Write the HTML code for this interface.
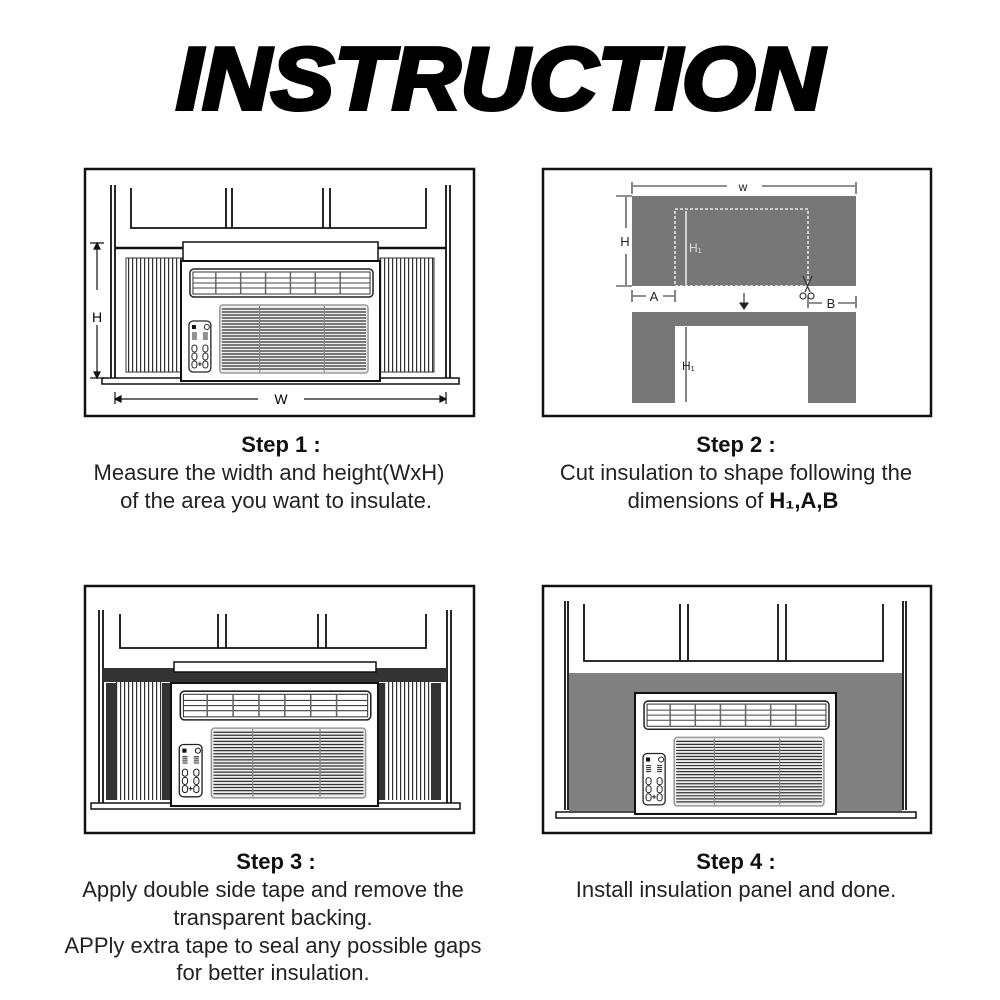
<!DOCTYPE html>
<html><head><meta charset="utf-8"><style>
html,body{margin:0;padding:0;background:#fff;width:1000px;height:1000px;overflow:hidden}
.t{font-family:"Liberation Sans",sans-serif;font-size:22px;fill:#222;text-anchor:middle}
.b{font-weight:bold;fill:#111}
</style></head><body>
<svg width="1000" height="1000" viewBox="0 0 1000 1000" xmlns="http://www.w3.org/2000/svg">
<defs>
<g id="ac">
  <rect x="0" y="0" width="200" height="120" fill="#fff" stroke="#111" stroke-width="2"/>
  <rect x="9" y="8" width="184" height="28" rx="4" fill="#fff" stroke="#222" stroke-width="1.5"/>
  <rect x="12" y="11" width="178" height="22" fill="none" stroke="#333" stroke-width="1"/>
  <path d="M12 17H190M12 22H190M12 27H190" stroke="#444" stroke-width="1"/>
  <path d="M35 11V33M60 11V33M85 11V33M110 11V33M135 11V33M160 11V33" stroke="#666" stroke-width="1.5"/>
  <rect x="39" y="44" width="149" height="68" rx="3" fill="#eee" stroke="#999" stroke-width="1.5"/>
  <path d="M41 48H186M41 51H186M41 54H186M41 57H186M41 60H186M41 63H186M41 66H186M41 69H186M41 72H186M41 75H186M41 78H186M41 81H186M41 84H186M41 87H186M41 90H186M41 93H186M41 96H186M41 99H186M41 102H186M41 105H186M41 108H186" stroke="#333" stroke-width="1.2"/>
  <path d="M79 45V111M144 45V111" stroke="#888" stroke-width="1.2"/>
  <rect x="8" y="60" width="22" height="51" rx="4" fill="#fff" stroke="#222" stroke-width="1.3"/>
  <rect x="11" y="64" width="4" height="4" fill="#111"/>
  <circle cx="26" cy="66" r="2.5" fill="none" stroke="#222"/>
  <path d="M11 72H16M11 74H16M11 76H16M11 78H16M22 72H27M22 74H27M22 76H27M22 78H27" stroke="#222" stroke-width="1"/>
  <rect x="11" y="84" width="5" height="7" rx="2.5" fill="none" stroke="#222"/>
  <rect x="11" y="92" width="5" height="7" rx="2.5" fill="none" stroke="#222"/>
  <rect x="11" y="100" width="5" height="7" rx="2.5" fill="none" stroke="#222"/>
  <rect x="22" y="84" width="5" height="7" rx="2.5" fill="none" stroke="#222"/>
  <rect x="22" y="92" width="5" height="7" rx="2.5" fill="none" stroke="#222"/>
  <rect x="22" y="100" width="5" height="7" rx="2.5" fill="none" stroke="#222"/>
  <path d="M17 103H21M19 101V105" stroke="#222"/>
</g>
<pattern id="acc" width="4" height="10" patternUnits="userSpaceOnUse">
  <rect width="4" height="10" fill="#fff"/><rect x="0" width="1.2" height="10" fill="#333"/>
</pattern>
</defs>

<!-- Title -->
<text x="500" y="109" font-family="Liberation Sans,sans-serif" font-weight="bold" font-style="italic" font-size="88" text-anchor="middle" textLength="648" lengthAdjust="spacingAndGlyphs" fill="#000" stroke="#000" stroke-width="4">INSTRUCTION</text>

<!-- Panel 1 -->
<rect x="85" y="169" width="389" height="247" fill="#fff" stroke="#111" stroke-width="2.5"/>
<g stroke="#111" fill="none" stroke-width="1.8">
  <path d="M111 185V380M115 185V380M446 185V380M450 185V380"/>
  <path d="M131 188V228H426V188M226 188V228M232 188V228M323 188V228M330 188V228"/>
</g>
<path d="M115 248H183M378 248H446" stroke="#111" stroke-width="2.5"/>
<rect x="126" y="258" width="56" height="114" fill="url(#acc)" stroke="#333"/>
<rect x="380" y="258" width="54" height="114" fill="url(#acc)" stroke="#333"/>
<rect x="102" y="378" width="357" height="6" fill="#fff" stroke="#111" stroke-width="1.5"/>
<rect x="183" y="242" width="195" height="19" fill="#fff" stroke="#111" stroke-width="1.5"/>
<use href="#ac" transform="translate(181,261) scale(0.995,1)"/>
<g stroke="#111" stroke-width="1.2" fill="#111">
  <path d="M90 243H104M90 378H104M97 245V290M97 325V376"/>
  <path d="M97 243l-3 6h6zM97 378l-3-6h6z"/>
  <path d="M115 392V404M446 392V404M117 399H258M304 399H444"/>
  <path d="M115 399l6-3v6zM446 399l-6-3v6z"/>
</g>
<text x="97" y="322" font-family="Liberation Sans,sans-serif" font-size="14" text-anchor="middle">H</text>
<text x="281" y="404" font-family="Liberation Sans,sans-serif" font-size="14" text-anchor="middle">W</text>

<!-- Panel 2 -->
<rect x="543" y="169" width="388" height="247" fill="#fff" stroke="#111" stroke-width="2.5"/>
<rect x="632" y="196" width="224" height="90" fill="#777"/>
<path d="M632 312H856V403H808V326H675V403H632Z" fill="#777"/>
<rect x="675" y="209" width="133" height="77" fill="none" stroke="#fff" stroke-width="1.3" stroke-dasharray="3,2"/>
<path d="M686 211V285" stroke="#fff" stroke-width="1.3"/>
<path d="M686 327V402" stroke="#333" stroke-width="1.2"/>
<text x="689" y="252" font-family="Liberation Sans,sans-serif" font-size="12" fill="#ddd">H₁</text>
<text x="682" y="370" font-family="Liberation Sans,sans-serif" font-size="12" fill="#222">H₁</text>
<g stroke="#222" stroke-width="1.1" fill="#222">
  <path d="M632 182V194M856 182V194M633 186H727M762 186H855"/>
  <path d="M616 196H632M616 286H632M626 197V228M626 254V285"/>
  <path d="M632 290V302M675 290V302M633 296H646M663 296H674"/>
  <path d="M808 296V308M856 296V308M809 303H822M838 303H855"/>
  <path d="M744 293V305"/><path d="M744 309l-4-6h8z"/>
</g>
<text x="743" y="191" font-family="Liberation Sans,sans-serif" font-size="12" text-anchor="middle" fill="#222">w</text>
<text x="625" y="246" font-family="Liberation Sans,sans-serif" font-size="13" text-anchor="middle" fill="#222">H</text>
<text x="654" y="301" font-family="Liberation Sans,sans-serif" font-size="13" text-anchor="middle" fill="#222">A</text>
<text x="831" y="308" font-family="Liberation Sans,sans-serif" font-size="13" text-anchor="middle" fill="#222">B</text>
<g stroke="#333" stroke-width="1.2" fill="none">
  <path d="M803 276L810 292M812 276L805 292"/>
  <circle cx="803" cy="296" r="3"/><circle cx="811" cy="296" r="3"/>
</g>

<!-- Panel 3 -->
<rect x="85" y="586" width="389" height="247" fill="#fff" stroke="#111" stroke-width="2.5"/>
<g stroke="#111" fill="none" stroke-width="1.8">
  <path d="M99 610V803M103 610V803M447 610V803M451 610V803"/>
  <path d="M120 614V648H426V614M218 614V648M226 614V648M318 614V648M326 614V648"/>
</g>
<rect x="103" y="668" width="344" height="14" fill="#333"/>
<rect x="106" y="683" width="10" height="117" fill="#333"/>
<rect x="116" y="682" width="46" height="118" fill="url(#acc)"/>
<rect x="162" y="683" width="10" height="117" fill="#333"/>
<rect x="377" y="683" width="8" height="117" fill="#333"/>
<rect x="385" y="682" width="46" height="118" fill="url(#acc)"/>
<rect x="431" y="683" width="10" height="117" fill="#333"/>
<rect x="91" y="803" width="369" height="6" fill="#fff" stroke="#111" stroke-width="1.5"/>
<rect x="174" y="662" width="202" height="10" fill="#fff" stroke="#111" stroke-width="1.5"/>
<use href="#ac" transform="translate(171,683) scale(1.035,1.025)"/>

<!-- Panel 4 -->
<rect x="543" y="586" width="388" height="247" fill="#fff" stroke="#111" stroke-width="2.5"/>
<rect x="569" y="673" width="333" height="138" fill="#808080"/>
<g stroke="#111" fill="none" stroke-width="1.8">
  <path d="M565 601V810M568 601V810M903 601V810M906 601V810"/>
  <path d="M584 604V661H883V604M680 604V661M688 604V661M778 604V661M786 604V661"/>
</g>
<rect x="556" y="812" width="360" height="6" fill="#fff" stroke="#111" stroke-width="1.5"/>
<use href="#ac" transform="translate(635,693) scale(1.005,1.008)"/>

<!-- Text -->
<text class="t b" x="281" y="452">Step 1 :</text>
<text class="t" x="269" y="480">Measure the width and height(WxH)</text>
<text class="t" x="276" y="508">of the area you want to insulate.</text>
<text class="t b" x="736" y="452">Step 2 :</text>
<text class="t" x="736" y="480">Cut insulation to shape following the</text>
<text class="t" x="733" y="508">dimensions of <tspan class="b">H₁,A,B</tspan></text>
<text class="t b" x="276" y="869">Step 3 :</text>
<text class="t" x="273" y="897">Apply double side tape and remove the</text>
<text class="t" x="273" y="925">transparent backing.</text>
<text class="t" x="273" y="953">APPly extra tape to seal any possible gaps</text>
<text class="t" x="273" y="980">for better insulation.</text>
<text class="t b" x="736" y="869">Step 4 :</text>
<text class="t" x="736" y="897">Install insulation panel and done.</text>
</svg>
</body></html>
